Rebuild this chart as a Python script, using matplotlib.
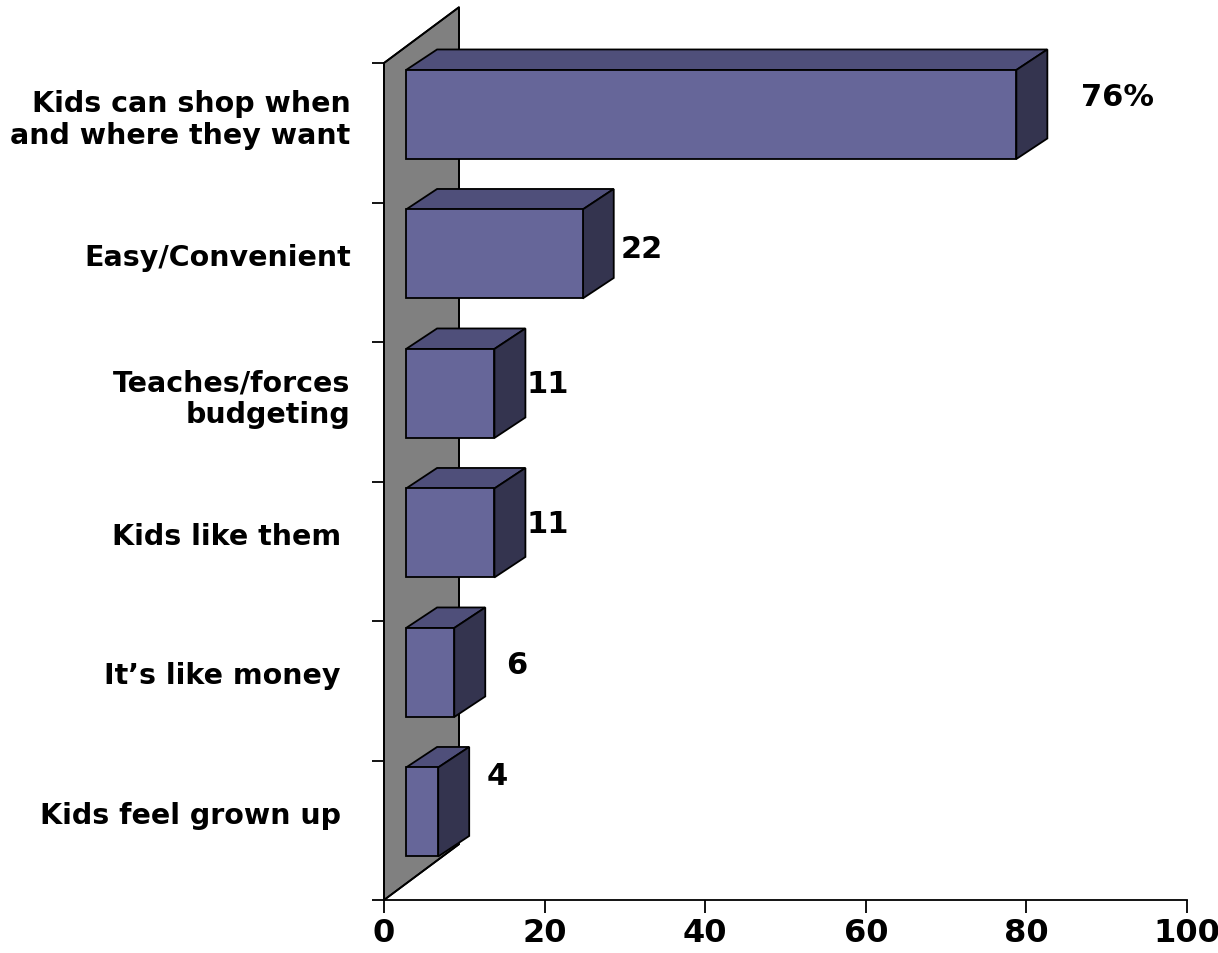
import matplotlib.pyplot as plt
from matplotlib.patches import Polygon

categories = [
    "Kids can shop when\nand where they want",
    "Easy/Convenient",
    "Teaches/forces\nbudgeting",
    "Kids like them ",
    "It\u2019s like money ",
    "Kids feel grown up ",
]
values = [76, 22, 11, 11, 6, 4]
value_labels = ["76%", "22", "11", "11", "6", "4"]
x_ticks = [0, 20, 40, 60, 80, 100]

# label nudges (data units) relative to the bar's front-top-right corner
label_dx = [12.6, 7.3, 6.7, 6.7, 7.8, 7.3]
label_dy = [-0.19, -0.28, -0.25, -0.25, -0.26, -0.06]

FRONT = "#666699"
TOP = "#4f4f7a"
SIDE = "#34344f"
WALL = "#808080"
LW = 1.3

n = len(categories)

fig = plt.figure(figsize=(12.18, 9.54), dpi=100)
ax = fig.add_axes([384 / 1218, 53 / 954, 803 / 1218, 837 / 954])
ax.set_xlim(0, 100)
ax.set_ylim(0, n)

# oblique projection offsets (data units)
wall_dx, wall_dy = 9.34, 0.40
bar_dx, bar_dy = 3.86, 0.147
bar_x0 = 2.75
bar_h = 0.638
bar_top_gap = 0.05

# back wall
wall_pts = [(0, 0), (0, n), (wall_dx, n + wall_dy), (wall_dx, wall_dy)]
wall = Polygon(wall_pts, closed=True, facecolor=WALL, edgecolor="black",
               lw=LW, clip_on=False, zorder=1)
ax.add_patch(wall)
wx, wy = zip(*(wall_pts + [wall_pts[0]]))
ax.plot(wx, wy, color="black", lw=LW, clip_on=False, zorder=1.5)

centers = [n - i - bar_top_gap - bar_h / 2 for i in range(n)]
ax.barh(centers, values, left=bar_x0, height=bar_h, color=FRONT,
        edgecolor="black", linewidth=LW, zorder=3)

for i, v in enumerate(values):
    x1 = bar_x0 + v
    yt = centers[i] + bar_h / 2
    yb = centers[i] - bar_h / 2
    top = Polygon([(bar_x0, yt), (x1, yt), (x1 + bar_dx, yt + bar_dy),
                   (bar_x0 + bar_dx, yt + bar_dy)], closed=True,
                  facecolor=TOP, edgecolor="black", lw=LW, zorder=2,
                  clip_on=False)
    side = Polygon([(x1, yb), (x1, yt), (x1 + bar_dx, yt + bar_dy),
                    (x1 + bar_dx, yb + bar_dy)], closed=True,
                   facecolor=SIDE, edgecolor="black", lw=LW, zorder=2,
                   clip_on=False)
    ax.add_patch(top)
    ax.add_patch(side)
    ax.text(x1 + label_dx[i], yt + label_dy[i], value_labels[i],
            ha="center", va="center", fontsize=22, fontweight="bold")

for s in ["top", "right"]:
    ax.spines[s].set_visible(False)
ax.spines["left"].set_linewidth(LW)
ax.spines["bottom"].set_linewidth(LW)
ax.spines["left"].set_zorder(4)

ax.set_xticks(x_ticks)
ax.set_xticklabels([str(t) for t in x_ticks], fontsize=23, fontweight="bold")
ax.tick_params(axis="x", length=9, width=LW, pad=3)

ax.set_yticks(range(n + 1))
ax.set_yticklabels([])
ax.tick_params(axis="y", which="major", length=9, width=LW)
ax.set_yticks(centers, minor=True)
ax.set_yticklabels(categories, minor=True, fontsize=20.5, fontweight="bold",
                   ha="right", linespacing=1.15)
ax.tick_params(axis="y", which="minor", length=0, pad=24)

fig.savefig("out.png", dpi=100)
